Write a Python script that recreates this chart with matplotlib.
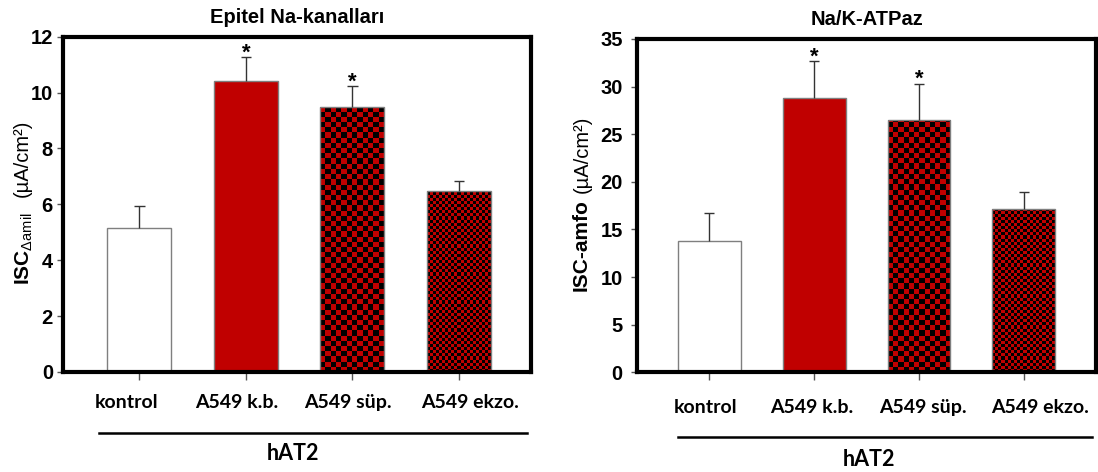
import numpy as np
import matplotlib
matplotlib.use("Agg")
import matplotlib.pyplot as plt

plt.rcParams['font.family'] = ['Liberation Sans', 'DejaVu Sans']
plt.rcParams['mathtext.fontset'] = 'custom'
plt.rcParams['mathtext.rm'] = 'Liberation Sans'
plt.rcParams['mathtext.it'] = 'Liberation Sans:italic'
plt.rcParams['mathtext.bf'] = 'Liberation Sans:bold'

# --- Data ---
categories = ["kontrol", "A549 k.b.", "A549 süp.", "A549 ekzo."]
enac_mean = [5.17, 10.43, 9.47, 6.49]
enac_err = [0.78, 0.83, 0.76, 0.34]
atpase_mean = [13.8, 28.8, 26.5, 17.1]
atpase_err = [2.9, 3.9, 3.8, 1.8]
significant = [False, True, True, False]
group_label = "hAT2"

# --- Styles ---
RED = "#C00000"
FILLS = ["white", RED, "checker", "checker"]
CHECK_PX = [None, None, 5.2, 3.1]
LABEL_FONT = ['Lato', 'DejaVu Sans']


def add_checker(ax, bar, sq_px):
    x0, w, h = bar.get_x(), bar.get_width(), bar.get_height()
    px0, py0 = ax.transData.transform((x0, 0))
    px1, py1 = ax.transData.transform((x0 + w, h))
    nx = max(1, int(round((px1 - px0) / sq_px)))
    ny = int(np.ceil((py1 - py0) / sq_px))
    yy, xx = np.indices((ny, nx))
    red = np.array(matplotlib.colors.to_rgb(RED))
    blk = np.zeros(3)
    img = np.where(((xx + yy) % 2 == 0)[..., None], red, blk)
    top = ny * sq_px / (py1 - py0) * h
    im = ax.imshow(img, extent=(x0, x0 + w, 0, top), origin='lower',
                   interpolation='nearest', aspect='auto', zorder=1.5)
    im.set_clip_path(bar)


def draw_panel(ax, means, errs, ymax, ystep, xlim, title, ypad, label_dy, label_dx):
    x = np.arange(len(categories))
    means = np.array(means)
    errs = np.array(errs)
    ax.set_xlim(*xlim)
    ax.set_ylim(0, ymax)

    faces = [f if f != "checker" else "none" for f in FILLS]
    bars = ax.bar(x, means, width=0.6, color=faces, edgecolor="#7f7f7f",
                  linewidth=1.0, zorder=2)
    for b, f, sq in zip(bars, FILLS, CHECK_PX):
        if f == "checker":
            add_checker(ax, b, sq)

    # upper error bars only
    ax.vlines(x, means, means + errs, color="#333333", lw=1.0, zorder=3)
    ax.hlines(means + errs, x - 0.05, x + 0.05, color="#333333", lw=1.0, zorder=3)

    for xi, m, e, s in zip(x, means, errs, significant):
        if s:
            ax.annotate("*", (xi, m + e), xytext=(0, -1), textcoords='offset points',
                        ha='center', va='baseline', fontsize=16, fontweight='bold')

    ax.set_xlim(*xlim)
    ax.set_ylim(0, ymax)
    ticks = np.arange(0, ymax + 0.01, ystep)
    ax.set_yticks(ticks)
    ax.set_yticklabels([f"{v:g}" for v in ticks], fontweight='bold', fontsize=14.5)
    ax.set_xticks(x)
    ax.set_xticklabels([])
    # category labels, slightly off-centre as in the original slide
    for xi, cat, dx in zip(x, categories, label_dx):
        ax.annotate(cat, (xi, 0), xycoords=('data', 'axes fraction'),
                    xytext=(dx * 0.72, -label_dy * 0.72), textcoords='offset points',
                    ha='center', va='center', fontweight='bold', fontsize=14,
                    family=LABEL_FONT, annotation_clip=False)
    ax.tick_params(axis='y', length=4, width=1, color="#555555", pad=ypad)
    ax.tick_params(axis='x', length=6, width=1, color="#555555")
    for sp in ax.spines.values():
        sp.set_linewidth(3)
        sp.set_color("black")
    ax.set_title(title, fontweight='bold', fontsize=14.5, pad=10)


fig = plt.figure(figsize=(10.98, 4.72), dpi=100)

ax1 = fig.add_axes([0.0571, 0.2119, 0.4268, 0.7104])
draw_panel(ax1, enac_mean, enac_err, 12, 2, (-0.72, 3.68), "Epitel Na-kanalları",
           3, 31, [-13, -9, -4, 11])
ax1.plot([0.078, 0.991], [-0.182, -0.182], transform=ax1.transAxes,
         clip_on=False, color="black", lw=1.8)
ax1.text(0.491, -0.242, group_label, transform=ax1.transAxes, ha='center', va='center',
         fontweight='bold', fontsize=15.5, family=LABEL_FONT)

ax2 = fig.add_axes([0.5799, 0.2112, 0.4186, 0.7062])
draw_panel(ax2, atpase_mean, atpase_err, 35, 5, (-0.69, 3.69), "Na/K-ATPaz",
           6, 35, [-4, -2, 4, 16])
ax2.plot([0.09, 0.99], [-0.194, -0.194], transform=ax2.transAxes,
         clip_on=False, color="black", lw=1.8)
ax2.text(0.505, -0.263, group_label, transform=ax2.transAxes, ha='center', va='center',
         fontweight='bold', fontsize=15.5, family=LABEL_FONT)

# y labels: bold quantity + regular units
fig.text(24 / 1098, (472 - 285) / 472, r"ISC$_{\mathrm{\Delta amil}}$", rotation=90,
         ha='center', va='bottom', fontweight='bold', fontsize=15)
fig.text(22 / 1098, (472 - 197) / 472, "(µA/cm²)", rotation=90,
         ha='center', va='bottom', fontsize=14.5)
fig.text(581 / 1098, (472 - 291) / 472, "ISC-amfo", rotation=90,
         ha='center', va='bottom', fontweight='bold', fontsize=15)
fig.text(582 / 1098, (472 - 193) / 472, "(µA/cm²)", rotation=90,
         ha='center', va='bottom', fontsize=14.5)

fig.savefig("out.png", dpi=100)
